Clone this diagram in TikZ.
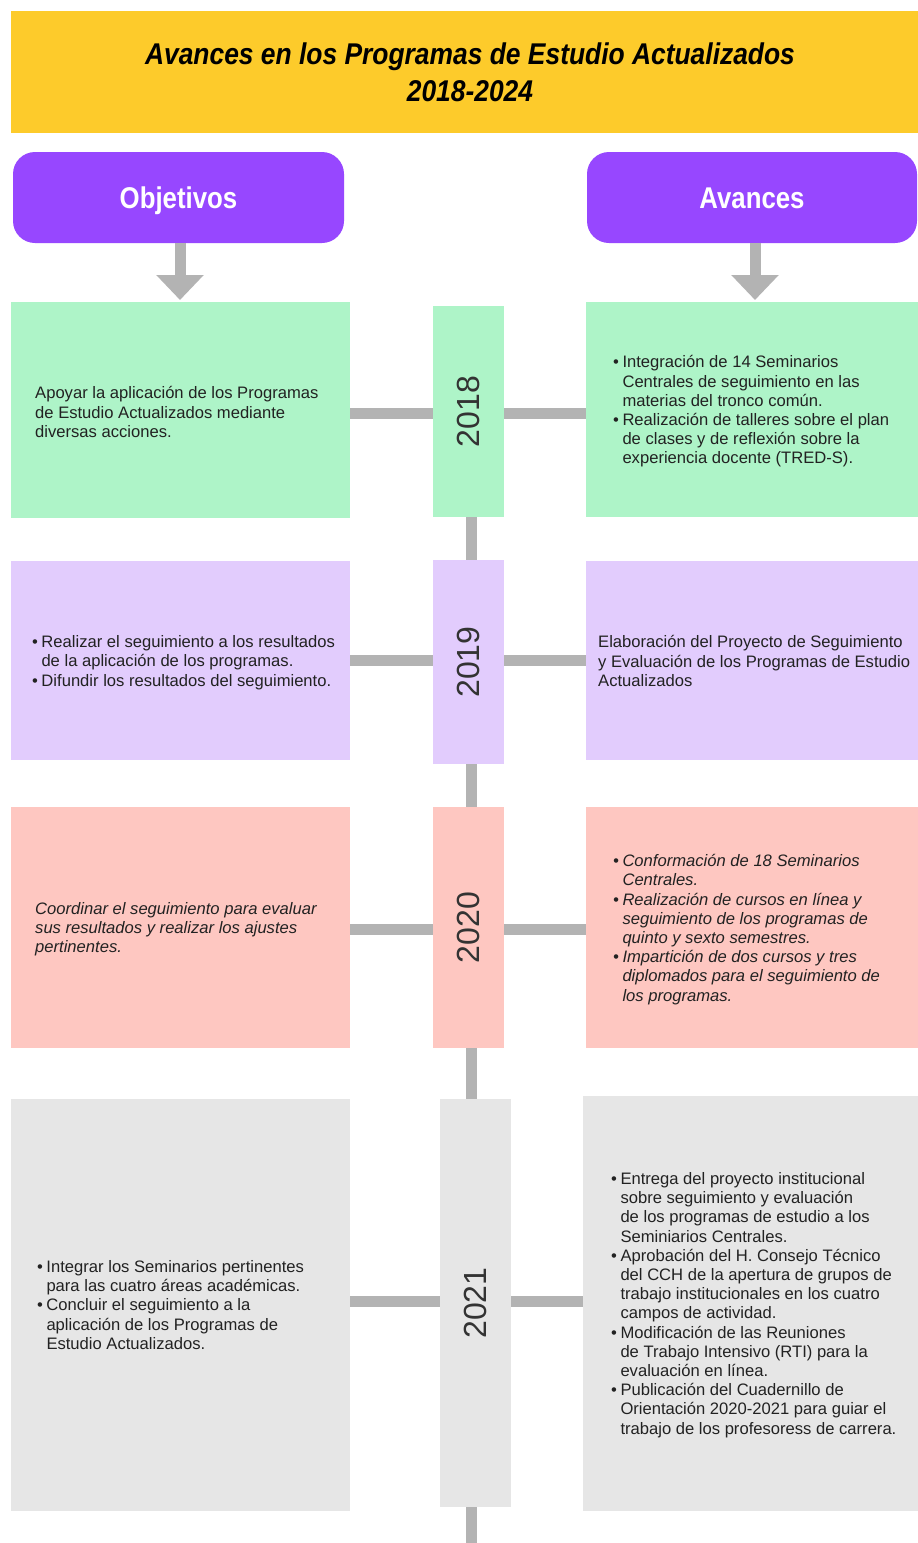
\documentclass[tikz,border=0pt]{standalone}
\usepackage{fontspec}
\setmainfont{Liberation Sans}
\newfontfamily\titlefont[FakeStretch=0.88]{Liberation Sans}
\newfontfamily\hdrfont[FakeStretch=0.86]{Liberation Sans}
\usetikzlibrary{arrows.meta,backgrounds}
\definecolor{ttl}{HTML}{FDCB2B}
\definecolor{hdr}{HTML}{9747FF}
\definecolor{cgreen}{HTML}{AEF4C8}
\definecolor{clav}{HTML}{E2CCFD}
\definecolor{cpink}{HTML}{FEC7C1}
\definecolor{cgray}{HTML}{E6E6E6}
\definecolor{conn}{HTML}{B3B3B3}
\definecolor{txt}{HTML}{222222}
\definecolor{yeartxt}{HTML}{333333}
\newcommand{\bu}{\textbullet}
\newenvironment{blist}{\begin{tabular}{@{}l@{\hspace{3.5pt}}l@{}}}{\end{tabular}}
\tikzset{
  box/.style={draw=none, inner sep=0pt, outer sep=0pt},
  yearbox/.style={box, minimum width=70.5pt, text=yeartxt, font=\fontsize{32}{36}\selectfont},
  hdrbox/.style={box, fill=hdr, rounded corners=22pt, minimum height=91pt, text=white, text height=22pt, text depth=0pt, font=\hdrfont\bfseries\fontsize{30}{34}\selectfont},
  body/.style={anchor=west, inner sep=0pt, text=txt, align=left, font=\fontsize{16.6}{19.2}\selectfont},
  connline/.style={draw=conn, line width=11pt},
  downarrow/.style={draw=conn, line width=11pt, -{Triangle[width=46pt,length=25pt]}}
}
\begin{document}
\begin{tikzpicture}[x=1pt,y=-1pt]
\useasboundingbox (0,0) rectangle (918,1543);
% title
\node[box, fill=ttl, minimum width=907.5pt, minimum height=122pt] (title) at (464.25,72) {};
\node[inner sep=0pt, align=center, font=\titlefont\bfseries\itshape\fontsize{30}{37}\selectfont] (titletxt) at (470,72) {Avances en los Programas de Estudio Actualizados\\2018-2024};
% headers
\node[hdrbox, minimum width=331pt] (obj) at (178.5,197.5) {Objetivos};
\node[hdrbox, minimum width=330pt] (ava) at (752,197.5) {Avances};
\coordinate (tipL) at (180,300);
\coordinate (tipR) at (755,300);
\draw[downarrow] (obj.south -| tipL) -- (tipL);
\draw[downarrow] (ava.south -| tipR) -- (tipR);
% 2018
\node[box, fill=cgreen, minimum width=339pt, minimum height=216pt] (l18) at (180.5,410) {};
\node[yearbox, fill=cgreen, minimum height=211pt] (y18) at (468.25,411.5) {\rotatebox{90}{2018}};
\node[box, fill=cgreen, minimum width=332.5pt, minimum height=215pt] (r18) at (751.75,409.5) {};
% 2019
\node[box, fill=clav, minimum width=339pt, minimum height=199pt] (l19) at (180.5,660.5) {};
\node[yearbox, fill=clav, minimum height=204pt] (y19) at (468.25,662) {\rotatebox{90}{2019}};
\node[box, fill=clav, minimum width=332.5pt, minimum height=199pt] (r19) at (751.75,660.5) {};
% 2020
\node[box, fill=cpink, minimum width=339pt, minimum height=241pt] (l20) at (180.5,927.5) {};
\node[yearbox, fill=cpink, minimum height=241pt] (y20) at (468.25,927.5) {\rotatebox{90}{2020}};
\node[box, fill=cpink, minimum width=332.5pt, minimum height=241pt] (r20) at (751.75,927.5) {};
% 2021
\node[box, fill=cgray, minimum width=339pt, minimum height=412pt] (l21) at (180,1305) {};
\node[yearbox, fill=cgray, minimum height=408pt] (y21) at (475.25,1303) {\rotatebox{90}{2021}};
\node[box, fill=cgray, minimum width=335.5pt, minimum height=415pt] (r21) at (750.25,1303.5) {};
% connectors
\coordinate (sp) at (471,0);
\coordinate (bottom) at (471,1543);
\coordinate (c18) at (0,413);
\coordinate (c19) at (0,660);
\coordinate (c20) at (0,929);
\coordinate (c21) at (0,1301);
\begin{scope}[on background layer]
\fill[white] (0,0) rectangle (918,1543);
\draw[connline] (l18.east |- c18) -- (r18.west |- c18);
\draw[connline] (l19.east |- c19) -- (r19.west |- c19);
\draw[connline] (l20.east |- c20) -- (r20.west |- c20);
\draw[connline] (l21.east |- c21) -- (r21.west |- c21);
\draw[connline] (y18.south -| sp) -- (y19.north -| sp);
\draw[connline] (y19.south -| sp) -- (y20.north -| sp);
\draw[connline] (y20.south -| sp) -- (y21.north -| sp);
\draw[connline] (y21.south -| sp) -- (bottom);
\end{scope}
% texts
\node[body] (t18l) at (35,412) {Apoyar la aplicación de los Programas\\de Estudio Actualizados mediante\\diversas acciones.};
\node[body] (t18r) at (613,412) {\begin{blist}
\bu & Integración de 14 Seminarios\\
 & Centrales de seguimiento en las\\
 & materias del tronco común.\\
\bu & Realización de talleres sobre el plan\\
 & de clases y de reflexión sobre la\\
 & experiencia docente (TRED-S).
\end{blist}};
\node[body] (t19l) at (32,663) {\begin{blist}
\bu & Realizar el seguimiento a los resultados\\
 & de la aplicación de los programas.\\
\bu & Difundir los resultados del seguimiento.
\end{blist}};
\node[body] (t19r) at (598,661) {Elaboración del Proyecto de Seguimiento\\y Evaluación de los Programas de Estudio\\Actualizados};
\node[body, font=\fontsize{16.6}{19.2}\selectfont\itshape] (t20l) at (35,929) {Coordinar el seguimiento para evaluar\\sus resultados y realizar los ajustes\\pertinentes.};
\node[body, font=\fontsize{16.6}{19.2}\selectfont\itshape] (t20r) at (613,930) {\begin{blist}
\bu & Conformación de 18 Seminarios\\
 & Centrales.\\
\bu & Realización de cursos en línea y\\
 & seguimiento de los programas de\\
 & quinto y sexto semestres.\\
\bu & Impartición de dos cursos y tres\\
 & diplomados para el seguimiento de\\
 & los programas.
\end{blist}};
\node[body] (t21l) at (37,1307) {\begin{blist}
\bu & Integrar los Seminarios pertinentes\\
 & para las cuatro áreas académicas.\\
\bu & Concluir el seguimiento a la\\
 & aplicación de los Programas de\\
 & Estudio Actualizados.
\end{blist}};
\node[body] (t21r) at (611,1305.5) {\begin{blist}
\bu & Entrega del proyecto institucional\\
 & sobre seguimiento y evaluación\\
 & de los programas de estudio a los\\
 & Seminiarios Centrales.\\
\bu & Aprobación del H. Consejo Técnico\\
 & del CCH de la apertura de grupos de\\
 & trabajo institucionales en los cuatro\\
 & campos de actividad.\\
\bu & Modificación de las Reuniones\\
 & de Trabajo Intensivo (RTI) para la\\
 & evaluación en línea.\\
\bu & Publicación del Cuadernillo de\\
 & Orientación 2020-2021 para guiar el\\
 & trabajo de los profesoress de carrera.
\end{blist}};
\end{tikzpicture}
\end{document}
